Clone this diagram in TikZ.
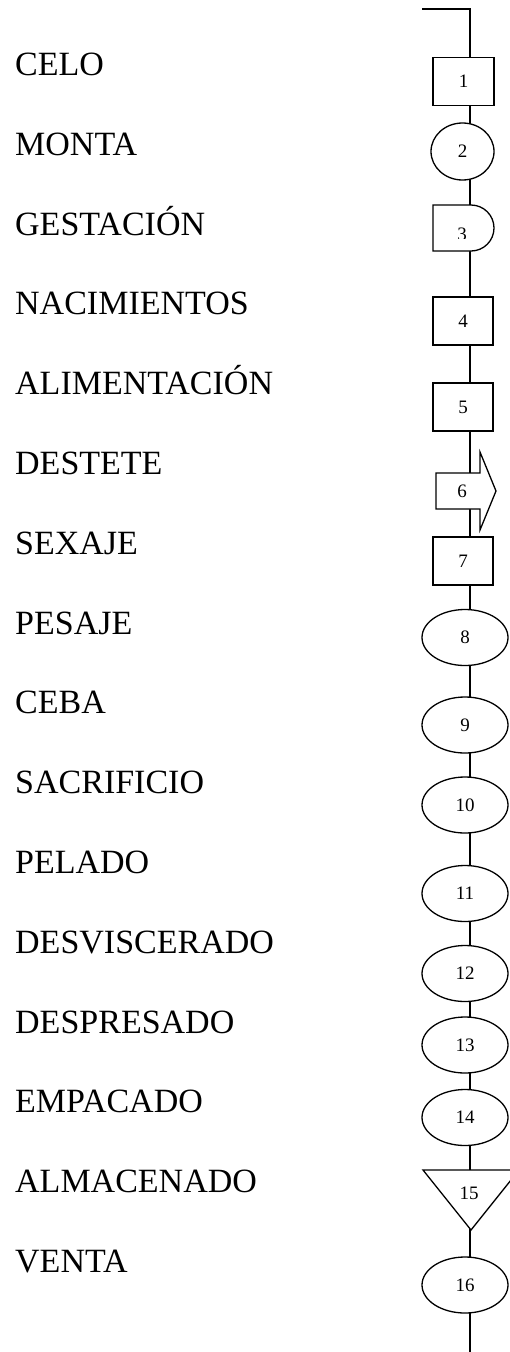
\documentclass[tikz,border=0pt]{standalone}
\usepackage{fontspec}
\setmainfont{Liberation Serif}
\usetikzlibrary{shapes.geometric,backgrounds}

\begin{document}
\begin{tikzpicture}[x=1pt, y=-1pt,
		etapa/.style={anchor=base west, inner sep=0pt, font=\fontsize{34}{40}\selectfont},
		numero/.style={inner sep=0pt, font=\fontsize{19}{22}\selectfont},
		forma/.style={draw, fill=white, line width=1.3pt},
		caja/.style={numero, forma, rectangle, minimum width=60pt, minimum height=48pt},
		elipse/.style={numero, forma, ellipse, minimum width=86pt, minimum height=56pt},
		flujo/.style={line width=1.3pt}]
			\useasboundingbox (0,0) rectangle (510,1352);

			\node (celo) at (15,75) [etapa] {CELO};
			\node (monta) at (15,155) [etapa] {MONTA};
			\node (gestacion) at (15,235) [etapa] {GESTACIÓN};
			\node (nacimientos) at (15,314) [etapa] {NACIMIENTOS};
			\node (alimentacion) at (15,394) [etapa] {ALIMENTACIÓN};
			\node (destete) at (15,474) [etapa] {DESTETE};
			\node (sexaje) at (15,554) [etapa] {SEXAJE};
			\node (pesaje) at (15,634) [etapa] {PESAJE};
			\node (ceba) at (15,713) [etapa] {CEBA};
			\node (sacrificio) at (15,793) [etapa] {SACRIFICIO};
			\node (pelado) at (15,873) [etapa] {PELADO};
			\node (desviscerado) at (15,953) [etapa] {DESVISCERADO};
			\node (despresado) at (15,1033) [etapa] {DESPRESADO};
			\node (empacado) at (15,1112) [etapa] {EMPACADO};
			\node (almacenado) at (15,1192) [etapa] {ALMACENADO};
			\node (venta) at (15,1272) [etapa] {VENTA};

			\coordinate (inicio) at (422,9);
			\coordinate (eje) at (470,9);
			\coordinate (fin) at (470,1352);

			\node (op1) at (463.5,81.5) [caja, minimum width=61pt] {1};
			\node (op2) at (462.5,151.5) [elipse, minimum width=63pt, minimum height=57pt] {2};
			\draw[forma] (433,205) -- (471,205) arc[start angle=90, end angle=-90, radius=23pt] -- (433,251) -- cycle;
			\begin{scope}
				\clip (433,205) rectangle (494,238);
				\node (op3) at (462,234) [numero] {3};
			\end{scope}
			\node (op4) at (463,321) [caja] {4};
			\node (op5) at (463,407) [caja] {5};
			\draw[forma] (436,473) -- (480,473) -- (480,452) -- (496,491) -- (480,530) -- (480,509) -- (436,509) -- cycle;
			\node (op6) at (462,491) [numero] {6};
			\node (op7) at (463,561) [caja] {7};
			\node (op8) at (465,637.5) [elipse] {8};
			\node (op9) at (465,725) [elipse] {9};
			\node (op10) at (465,805) [elipse] {10};
			\node (op11) at (465,893.5) [elipse] {11};
			\node (op12) at (465,973.5) [elipse] {12};
			\node (op13) at (465,1045) [elipse] {13};
			\node (op14) at (465,1117.5) [elipse] {14};
			\draw[forma] (423,1170) -- (519,1170) -- (471,1230) -- cycle;
			\node (op15) at (469,1193) [numero] {15};
			\node (op16) at (465,1285) [elipse] {16};

			\begin{scope}[on background layer]
				\draw[flujo] (inicio) -- (eje) -- (eje |- op1) -- (eje |- op2) -- (eje |- op3) -- (eje |- op4)
					-- (eje |- op5) -- (eje |- op6) -- (eje |- op7) -- (eje |- op8) -- (eje |- op9);
				\draw[flujo] (eje |- op9) -- (eje |- op10) -- (eje |- op11) -- (eje |- op12) -- (eje |- op13)
					-- (eje |- op14) -- (eje |- op15) -- (eje |- op16) -- (fin);
			\end{scope}
		\end{tikzpicture}
\end{document}
